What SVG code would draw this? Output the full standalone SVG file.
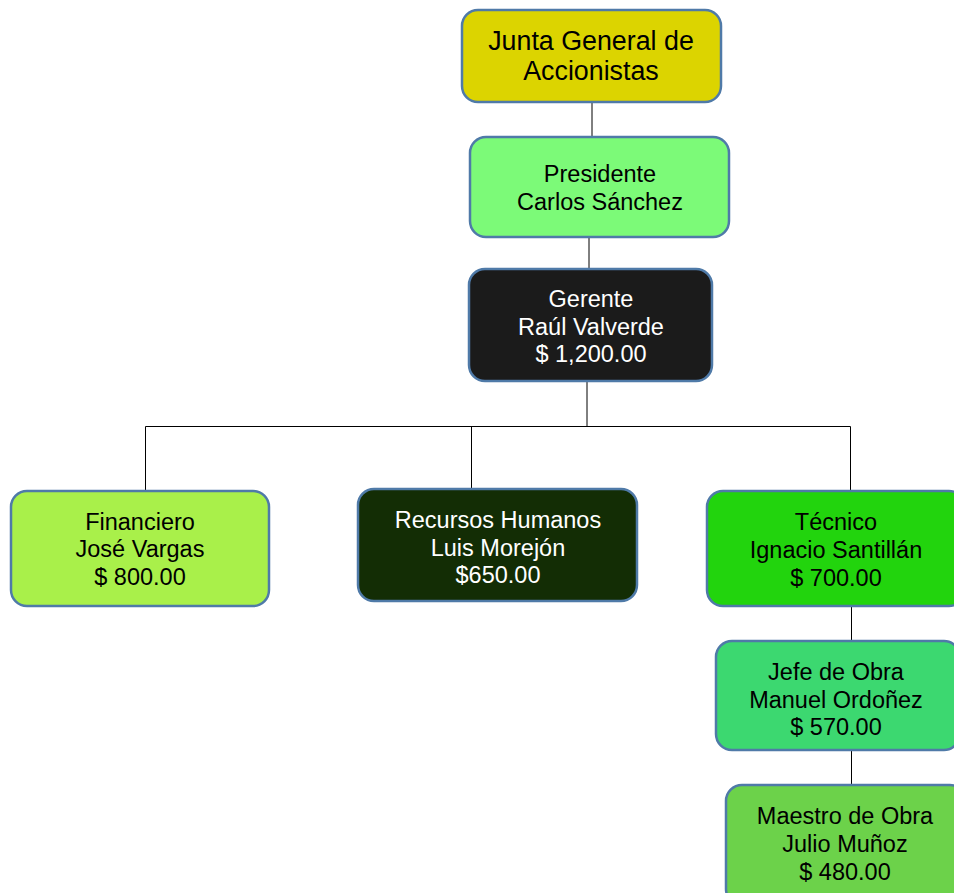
<svg xmlns="http://www.w3.org/2000/svg" width="954" height="893" viewBox="0 0 954 893">
  <style>
    .box { stroke: #4f7aa8; stroke-width: 2.5; }
    .lbl { font-family: "Liberation Sans", Arial, sans-serif; font-size: 23.5px; text-anchor: middle; fill: #000; }
    .lbl.light { fill: #fff; }
    .lbl.big { font-size: 26.8px; }
    .link { stroke: #000; stroke-width: 1; fill: none; }
  </style>
  <rect width="954" height="893" fill="#fff"/>

  <g id="connectors">
    <line class="link" x1="592" y1="102" x2="592" y2="137"/>
    <line class="link" x1="589" y1="237" x2="589" y2="268"/>
    <line class="link" x1="587" y1="382" x2="587" y2="426"/>
    <polyline class="link" points="145.5,490 145.5,426.5 850.5,426.5 850.5,491"/>
    <line class="link" x1="471.5" y1="426" x2="471.5" y2="488"/>
    <line class="link" x1="851.5" y1="607" x2="851.5" y2="641"/>
    <line class="link" x1="851.5" y1="750" x2="851.5" y2="785"/>
  </g>

  <g id="junta">
    <rect class="box" x="462" y="10" width="259" height="92" rx="16" fill="#dcd400"/>
    <text class="lbl big" x="591" y="50">Junta General de</text>
    <text class="lbl big" x="591" y="80">Accionistas</text>
  </g>

  <g id="presidente">
    <rect class="box" x="470" y="137" width="259" height="100" rx="16" fill="#7cfa78"/>
    <text class="lbl" x="600" y="182">Presidente</text>
    <text class="lbl" x="600" y="210">Carlos Sánchez</text>
  </g>

  <g id="gerente">
    <rect class="box" x="469" y="269" width="243" height="112" rx="16" fill="#1b1b1b"/>
    <text class="lbl light" x="591" y="307">Gerente</text>
    <text class="lbl light" x="591" y="335">Raúl Valverde</text>
    <text class="lbl light" x="591" y="362">$ 1,200.00</text>
  </g>

  <g id="financiero">
    <rect class="box" x="11" y="491" width="258" height="115" rx="16" fill="#a9f04a"/>
    <text class="lbl" x="140" y="530">Financiero</text>
    <text class="lbl" x="140" y="557">José Vargas</text>
    <text class="lbl" x="140" y="585">$ 800.00</text>
  </g>

  <g id="rrhh">
    <rect class="box" x="358" y="489" width="279" height="112" rx="16" fill="#132d05"/>
    <text class="lbl light" x="498" y="528">Recursos Humanos</text>
    <text class="lbl light" x="498" y="556">Luis Morejón</text>
    <text class="lbl light" x="498" y="583">$650.00</text>
  </g>

  <g id="tecnico">
    <rect class="box" x="707" y="491" width="258" height="115" rx="16" fill="#22d40d"/>
    <text class="lbl" x="836" y="530">Técnico</text>
    <text class="lbl" x="836" y="558">Ignacio Santillán</text>
    <text class="lbl" x="836" y="586">$ 700.00</text>
  </g>

  <g id="jefe-obra">
    <rect class="box" x="716" y="641" width="244" height="109" rx="16" fill="#3cd870"/>
    <text class="lbl" x="836" y="680">Jefe de Obra</text>
    <text class="lbl" x="836" y="708">Manuel Ordoñez</text>
    <text class="lbl" x="836" y="735">$ 570.00</text>
  </g>

  <g id="maestro-obra">
    <rect class="box" x="726" y="785" width="240" height="120" rx="16" fill="#6cd24a"/>
    <text class="lbl" x="845" y="824">Maestro de Obra</text>
    <text class="lbl" x="845" y="852">Julio Muñoz</text>
    <text class="lbl" x="845" y="880">$ 480.00</text>
  </g>
</svg>
